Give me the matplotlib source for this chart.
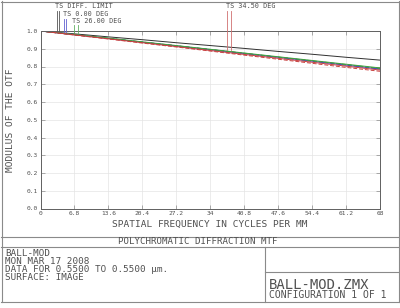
import matplotlib
matplotlib.use("Agg")
import matplotlib.pyplot as plt
from matplotlib.lines import Line2D

# spatial frequency (cycles/mm) and MTF values
freq = [0, 6.8, 13.6, 20.4, 27.2, 34, 40.8, 47.6, 54.4, 61.2, 68]
diff_limit = [1.0, 0.984, 0.967, 0.951, 0.934, 0.918, 0.902, 0.885, 0.869, 0.852, 0.836]
deg0_t = [1.0, 0.979, 0.958, 0.937, 0.916, 0.895, 0.873, 0.852, 0.830, 0.808, 0.786]
deg0_s = [1.0, 0.979, 0.958, 0.937, 0.916, 0.895, 0.873, 0.852, 0.830, 0.808, 0.786]
deg26_t = [1.0, 0.980, 0.960, 0.939, 0.918, 0.897, 0.876, 0.855, 0.834, 0.813, 0.792]
deg26_s = [1.0, 0.979, 0.959, 0.938, 0.917, 0.896, 0.875, 0.853, 0.832, 0.811, 0.789]
deg34_t = [1.0, 0.978, 0.956, 0.934, 0.912, 0.890, 0.868, 0.846, 0.824, 0.802, 0.780]
deg34_s = [1.0, 0.977, 0.955, 0.932, 0.910, 0.887, 0.864, 0.841, 0.818, 0.795, 0.773]

xticks = [0, 6.8, 13.6, 20.4, 27.2, 34, 40.8, 47.6, 54.4, 61.2, 68]
xtick_labels = ["0", "6.8", "13.6", "20.4", "27.2", "34", "40.8", "47.6", "54.4", "61.2", "68"]
yticks = [0, 0.1, 0.2, 0.3, 0.4, 0.5, 0.6, 0.7, 0.8, 0.9, 1.0]
ytick_labels = ["0.0", "0.1", "0.2", "0.3", "0.4", "0.5", "0.6", "0.7", "0.8", "0.9", "1.0"]

plt.rcParams['font.family'] = ['DejaVu Sans Mono', 'DejaVu Sans']
txt = '#505050'
frame = '#8a8a8a'
c_diff = '#303030'
c_blue = '#4040c8'
c_green = '#40a040'
c_red = '#c84040'

W, H = 400, 308
fig = plt.figure(figsize=(4, 3.08), dpi=100)

def px(x, y):
    return x / W, 1 - y / H

ax = fig.add_axes([40.5 / W, 1 - 208.5 / H, (380 - 40.5) / W, (208.5 - 31) / H])
ax.plot(freq, diff_limit, color=c_diff, lw=0.7)
ax.plot(freq, deg0_t, color=c_blue, lw=0.7)
ax.plot(freq, deg0_s, color=c_blue, lw=0.7, ls=(0, (4, 2)))
ax.plot(freq, deg26_t, color=c_green, lw=0.7)
ax.plot(freq, deg26_s, color=c_green, lw=0.7, ls=(0, (4, 2)))
ax.plot(freq, deg34_t, color=c_red, lw=0.7)
ax.plot(freq, deg34_s, color=c_red, lw=0.7, ls=(0, (4, 2)))

ax.set_xlim(0, 68)
ax.set_ylim(0, 1)
ax.set_xticks(xticks)
ax.set_xticklabels(xtick_labels)
ax.set_yticks(yticks)
ax.set_yticklabels(ytick_labels)
ax.tick_params(direction='in', length=3, width=0.5, colors=frame, labelcolor=txt,
               labelsize=4.5, pad=2, top=True, right=True)
ax.grid(True, color='#e4e4e4', lw=0.5)
for s in ax.spines.values():
    s.set_color('#606060')
    s.set_linewidth(0.7)
ax.set_xlabel('SPATIAL FREQUENCY IN CYCLES PER MM', fontsize=6.8, color=txt, labelpad=3)
ax.set_ylabel('MODULUS OF THE OTF', fontsize=6.8, color=txt)
ax.yaxis.set_label_coords((15.5 - 40.5) / (380 - 40.5), 0.5)

# legend labels with their vertical marker lines
legend = [
    ("TS DIFF. LIMIT", 55, 6.5, '#555555', [57, 59], 11, 31),
    ("TS 0.00 DEG", 63, 13.8, '#6060d0', [64.3, 66.3], 18.5, 32),
    ("TS 26.00 DEG", 72.5, 21.1, '#60b060', [74, 78], 25, 33),
    ("TS 34.50 DEG", 226, 6.5, '#d07070', [227, 231], 11, 50),
]
for label, lx, ly, col, xs, y0, y1 in legend:
    fig.text(*px(lx, ly), label, fontsize=4.9, color=txt, va='center', ha='left')
    for x in xs:
        fig.add_artist(Line2D([x / W, x / W], [1 - y0 / H, 1 - y1 / H],
                              transform=fig.transFigure, color=col, lw=0.6))

# frame and bottom info box
def hline(x0, x1, y):
    fig.add_artist(Line2D([x0 / W, x1 / W], [1 - y / H, 1 - y / H],
                          transform=fig.transFigure, color=frame, lw=0.8))

def vline(x, y0, y1):
    fig.add_artist(Line2D([x / W, x / W], [1 - y0 / H, 1 - y1 / H],
                          transform=fig.transFigure, color=frame, lw=0.8))

hline(1, 399, 1.5)
hline(1, 399, 302)
vline(1.5, 1, 302)
vline(398.5, 1, 302)
hline(1, 399, 236.5)
hline(1, 399, 247)
vline(265, 247, 302)
hline(265, 399, 272)

fig.text(*px(198, 242), "POLYCHROMATIC DIFFRACTION MTF", fontsize=6.6, color=txt,
         ha='center', va='center')
info = ["BALL-MOD", "MON MAR 17 2008", "DATA FOR 0.5500 TO 0.5500 µm.", "SURFACE: IMAGE"]
for i, line in enumerate(info):
    fig.text(*px(5, 254 + i * 7.8), line, fontsize=6.7, color=txt, ha='left', va='center')
fig.text(*px(269, 285), "BALL-MOD.ZMX", fontsize=10, color=txt, ha='left', va='center')
fig.text(*px(269, 295.5), "CONFIGURATION 1 OF 1", fontsize=7.0, color=txt,
         ha='left', va='center')

fig.savefig('out.png', dpi=100)
